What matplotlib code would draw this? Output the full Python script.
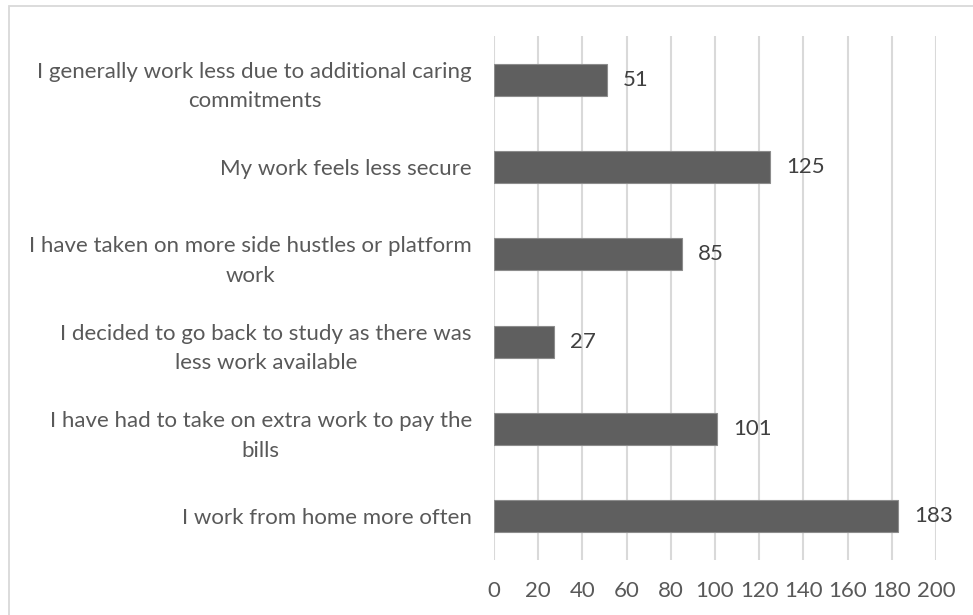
import matplotlib
matplotlib.use("Agg")
import matplotlib.pyplot as plt
from matplotlib.patches import Rectangle

# Survey responses: changes to work experience (bottom to top)
categories = [
    "I work from home more often",
    "I have had to take on extra work to pay the\nbills",
    "I decided to go back to study as there was\nless work available",
    "I have taken on more side hustles or platform\nwork",
    "My work feels less secure",
    "I generally work less due to additional caring\ncommitments",
]
counts = [183, 101, 27, 85, 125, 51]
x_ticks = [0, 20, 40, 60, 80, 100, 120, 140, 160, 180, 200]

W, H = 973, 615
fig = plt.figure(figsize=(W / 100, H / 100), dpi=100)
fig.patch.set_facecolor("white")

font = "Lato"
text_color = "#595959"
grid_color = "#d9d9d9"
bar_color = "#5f5f5f"
fs = 16

# chart frame running off the right and bottom edges
fig.patches.append(Rectangle((9 / W, -0.1), 1.2, 1 - 6 / H + 0.1,
                             transform=fig.transFigure, fill=False,
                             edgecolor=grid_color, linewidth=1.3))

left, right = 494, 936
top, bottom = 36, 560
ax = fig.add_axes([left / W, 1 - bottom / H, (right - left) / W, (bottom - top) / H])
ax.set_facecolor("none")

ypos = list(range(len(categories)))
ax.barh(ypos, counts, height=0.366, color=bar_color,
        edgecolor="#8c8c8c", linewidth=0.8, zorder=3)

for y, v in zip(ypos, counts):
    ax.annotate(str(v), xy=(v, y), xytext=(11.5, 0), textcoords="offset points",
                ha="left", va="center", fontsize=fs, color="#404040",
                family=font, zorder=4)

ax.set_xlim(0, 200)
ax.set_ylim(-0.5, len(categories) - 0.5)
ax.set_xticks(x_ticks)
ax.set_xticklabels([str(t) for t in x_ticks], fontsize=fs, color=text_color, family=font)
ax.set_yticks(ypos)
ax.set_yticklabels(categories, fontsize=fs, color=text_color, family=font,
                   multialignment="center", linespacing=1.6)
ax.tick_params(axis="x", length=0, pad=15)
ax.tick_params(axis="y", length=0, pad=16)

ax.grid(axis="x", color=grid_color, linewidth=1.5, zorder=0)
ax.set_axisbelow(True)
for s in ax.spines.values():
    s.set_visible(False)

fig.savefig("out.png", dpi=100, facecolor="white")
